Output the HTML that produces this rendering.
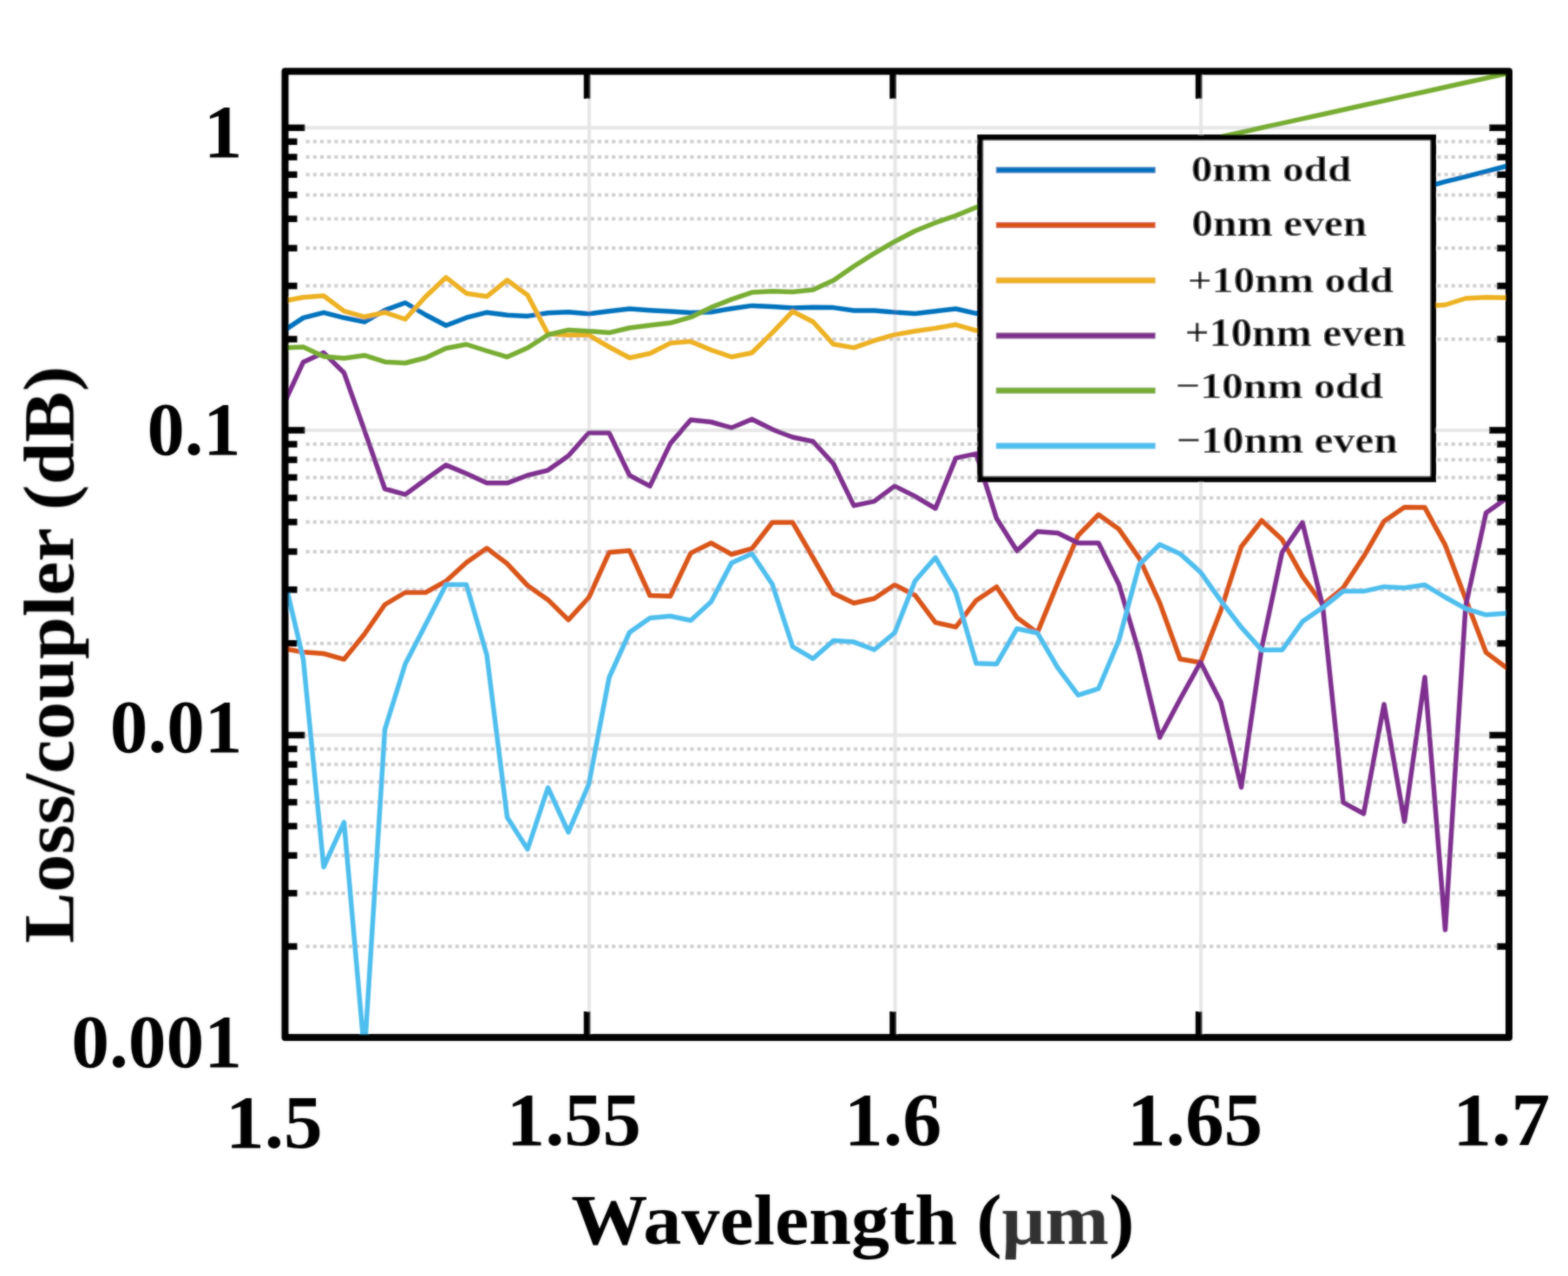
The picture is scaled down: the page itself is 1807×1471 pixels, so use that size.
<!DOCTYPE html>
<html><head><meta charset="utf-8"><title>Loss per coupler vs wavelength</title>
<style>html,body{margin:0;padding:0;background:#fff;}body{width:1807px;height:1471px;overflow:hidden;}svg{display:block;}.t{font-family:"Liberation Serif","Times New Roman",serif;font-weight:bold;fill:#000;}</style>
</head><body>
<svg width="1807" height="1471" viewBox="0 0 1807 1471">
<rect x="0" y="0" width="1807" height="1471" fill="#fff"/>
<defs><filter id="bl" x="0" y="0" width="1807" height="1471" filterUnits="userSpaceOnUse"><feGaussianBlur in="SourceGraphic" stdDeviation="1" result="b"/><feComposite in="SourceGraphic" in2="b" operator="arithmetic" k1="0" k2="0.4" k3="0.6" k4="0"/></filter></defs>
<g filter="url(#bl)">
<defs><clipPath id="pa"><rect x="328.5" y="82.3" width="1410.5" height="1113.7"/></clipPath></defs>
<g stroke="#cfcfcf" stroke-width="4" stroke-dasharray="4.2 4" fill="none"><line x1="352.5" y1="1091.1" x2="1731.0" y2="1091.1"/><line x1="352.5" y1="1029.7" x2="1731.0" y2="1029.7"/><line x1="352.5" y1="986.2" x2="1731.0" y2="986.2"/><line x1="352.5" y1="952.4" x2="1731.0" y2="952.4"/><line x1="352.5" y1="924.8" x2="1731.0" y2="924.8"/><line x1="352.5" y1="901.5" x2="1731.0" y2="901.5"/><line x1="352.5" y1="881.3" x2="1731.0" y2="881.3"/><line x1="352.5" y1="863.4" x2="1731.0" y2="863.4"/><line x1="352.5" y1="741.7" x2="1731.0" y2="741.7"/><line x1="352.5" y1="679.8" x2="1731.0" y2="679.8"/><line x1="352.5" y1="635.9" x2="1731.0" y2="635.9"/><line x1="352.5" y1="601.8" x2="1731.0" y2="601.8"/><line x1="352.5" y1="574.0" x2="1731.0" y2="574.0"/><line x1="352.5" y1="550.4" x2="1731.0" y2="550.4"/><line x1="352.5" y1="530.1" x2="1731.0" y2="530.1"/><line x1="352.5" y1="512.1" x2="1731.0" y2="512.1"/><line x1="352.5" y1="391.0" x2="1731.0" y2="391.0"/><line x1="352.5" y1="329.6" x2="1731.0" y2="329.6"/><line x1="352.5" y1="286.1" x2="1731.0" y2="286.1"/><line x1="352.5" y1="252.3" x2="1731.0" y2="252.3"/><line x1="352.5" y1="224.7" x2="1731.0" y2="224.7"/><line x1="352.5" y1="201.3" x2="1731.0" y2="201.3"/><line x1="352.5" y1="181.1" x2="1731.0" y2="181.1"/><line x1="352.5" y1="163.3" x2="1731.0" y2="163.3"/></g>
<g stroke="#e6e6e6" stroke-width="4" fill="none"><line x1="332.5" y1="147.3" x2="1735.0" y2="147.3"/><line x1="332.5" y1="496.0" x2="1735.0" y2="496.0"/><line x1="332.5" y1="847.5" x2="1735.0" y2="847.5"/><line x1="679.0" y1="86.3" x2="679.0" y2="1192.0"/><line x1="1031.5" y1="86.3" x2="1031.5" y2="1192.0"/><line x1="1384.0" y1="86.3" x2="1384.0" y2="1192.0"/></g>
<g clip-path="url(#pa)" fill="none" stroke-width="5.5" stroke-linejoin="round" stroke-linecap="butt">
<polyline stroke="#0072BD" points="326.0,382.0 349.5,366.4 373.0,360.4 396.5,366.3 420.0,371.0 443.5,357.6 467.0,349.0 490.5,363.0 514.0,375.3 537.5,366.2 561.0,360.2 584.5,363.2 608.0,364.4 631.5,360.8 655.0,359.8 678.5,361.8 702.0,358.7 725.5,356.1 749.0,357.7 772.5,359.0 796.0,360.4 819.5,359.7 843.0,355.7 866.5,352.4 890.0,353.4 913.5,355.0 937.0,354.2 960.5,354.6 984.0,358.0 1007.5,358.0 1031.0,360.1 1054.5,361.4 1078.0,358.7 1101.5,356.0 1125.0,361.4 1148.5,354.8 1172.0,348.2 1195.5,341.6 1219.0,335.0 1242.5,328.4 1266.0,321.7 1289.5,315.1 1313.0,308.5 1336.5,301.9 1360.0,295.3 1383.5,288.7 1407.0,282.1 1430.5,275.5 1454.0,268.9 1477.5,262.3 1501.0,255.7 1524.5,249.1 1548.0,242.4 1571.5,235.8 1595.0,229.2 1618.5,222.6 1642.0,216.0 1665.5,209.4 1689.0,203.6 1712.5,197.6 1736.0,191.5"/>
<polyline stroke="#D95319" points="326.0,747.7 349.5,751.8 373.0,753.5 396.5,760.1 420.0,731.0 443.5,697.0 467.0,683.0 490.5,683.0 514.0,670.0 537.5,648.5 561.0,632.0 584.5,649.8 608.0,675.0 631.5,691.4 655.0,714.6 678.5,689.0 702.0,636.8 725.5,634.7 749.0,686.5 772.5,687.2 796.0,637.6 819.5,626.0 843.0,639.0 866.5,632.5 890.0,602.3 913.5,602.3 937.0,643.0 960.5,684.0 984.0,695.2 1007.5,690.0 1031.0,674.2 1054.5,686.2 1078.0,717.6 1101.5,722.9 1125.0,692.2 1148.5,676.5 1172.0,712.0 1195.5,729.4 1219.0,672.0 1242.5,617.2 1266.0,593.3 1289.5,610.1 1313.0,643.7 1336.5,694.9 1360.0,759.8 1383.5,763.7 1407.0,703.5 1430.5,630.2 1454.0,600.0 1477.5,622.0 1501.0,664.4 1524.5,697.0 1548.0,677.5 1571.5,641.6 1595.0,600.9 1618.5,584.8 1642.0,585.1 1665.5,628.4 1689.0,690.2 1712.5,752.1 1736.0,769.8"/>
<polyline stroke="#EDB120" points="326.0,347.3 349.5,342.8 373.0,341.0 396.5,358.6 420.0,365.3 443.5,360.2 467.0,368.0 490.5,342.0 514.0,319.8 537.5,338.2 561.0,341.8 584.5,323.0 608.0,340.2 631.5,385.0 655.0,386.3 678.5,386.3 702.0,400.0 725.5,412.5 749.0,407.5 772.5,395.6 796.0,393.6 819.5,403.5 843.0,411.5 866.5,406.8 890.0,383.6 913.5,359.0 937.0,371.0 960.5,396.8 984.0,400.9 1007.5,392.7 1031.0,385.9 1054.5,381.8 1078.0,378.4 1101.5,374.3 1125.0,381.1 1148.5,379.8 1172.0,378.5 1195.5,377.2 1219.0,376.0 1242.5,374.7 1266.0,373.4 1289.5,372.1 1313.0,370.8 1336.5,369.5 1360.0,368.2 1383.5,366.9 1407.0,365.7 1430.5,364.4 1454.0,363.1 1477.5,361.8 1501.0,360.5 1524.5,359.2 1548.0,357.9 1571.5,356.6 1595.0,355.4 1618.5,354.1 1642.0,352.8 1665.5,351.5 1689.0,344.0 1712.5,342.7 1736.0,343.3"/>
<polyline stroke="#7E2F8E" points="326.0,468.0 349.5,417.4 373.0,406.6 396.5,429.8 420.0,496.2 443.5,563.5 467.0,570.1 490.5,552.7 514.0,536.1 537.5,546.0 561.0,556.8 584.5,556.8 608.0,548.0 631.5,542.1 655.0,525.5 678.5,499.0 702.0,499.0 725.5,548.0 749.0,560.4 772.5,511.4 796.0,484.0 819.5,486.5 843.0,493.2 866.5,483.2 890.0,495.0 913.5,504.0 937.0,509.0 960.5,534.7 984.0,582.9 1007.5,577.9 1031.0,560.4 1054.5,572.1 1078.0,586.2 1101.5,528.1 1125.0,523.1 1148.5,597.8 1172.0,635.0 1195.5,612.7 1219.0,614.5 1242.5,626.0 1266.0,626.0 1289.5,673.7 1313.0,753.0 1336.5,850.2 1360.0,806.0 1383.5,763.6 1407.0,809.6 1430.5,907.7 1454.0,747.0 1477.5,636.7 1501.0,602.4 1524.5,700.0 1548.0,925.2 1571.5,938.0 1595.0,812.0 1618.5,947.2 1642.0,780.8 1665.5,1072.0 1689.0,699.0 1712.5,591.3 1736.0,574.5"/>
<polyline stroke="#77AC30" points="326.0,401.0 349.5,400.0 373.0,411.0 396.5,413.0 420.0,409.7 443.5,417.2 467.0,418.5 490.5,412.5 514.0,401.5 537.5,397.0 561.0,404.5 584.5,411.6 608.0,401.0 631.5,386.0 655.0,380.4 678.5,381.7 702.0,383.6 725.5,378.0 749.0,375.0 772.5,372.3 796.0,365.7 819.5,354.4 843.0,345.1 866.5,337.1 890.0,335.8 913.5,336.5 937.0,334.0 960.5,323.3 984.0,307.0 1007.5,292.1 1031.0,278.5 1054.5,266.2 1078.0,256.7 1101.5,248.6 1125.0,239.0 1148.5,232.2 1172.0,225.5 1195.5,218.7 1219.0,211.9 1242.5,205.1 1266.0,198.4 1289.5,191.6 1313.0,184.8 1336.5,178.0 1360.0,171.3 1383.5,164.5 1407.0,157.7 1430.5,152.5 1454.0,147.3 1477.5,142.1 1501.0,136.9 1524.5,131.7 1548.0,126.5 1571.5,121.3 1595.0,116.1 1618.5,110.9 1642.0,105.7 1665.5,100.5 1689.0,95.3 1712.5,90.1 1736.0,84.9"/>
<polyline stroke="#4DBEEE" points="326.0,660.0 349.5,760.0 373.0,999.5 396.5,947.9 420.0,1215.0 443.5,841.0 467.0,765.5 490.5,720.0 514.0,674.0 537.5,674.0 561.0,755.0 584.5,942.2 608.0,979.0 631.5,908.0 655.0,959.4 678.5,904.3 702.0,781.0 725.5,729.0 749.0,712.4 772.5,710.2 796.0,715.3 819.5,693.7 843.0,649.1 866.5,638.3 890.0,673.5 913.5,745.5 937.0,759.3 960.5,738.6 984.0,740.1 1007.5,749.0 1031.0,729.6 1054.5,669.8 1078.0,642.8 1101.5,683.2 1125.0,764.7 1148.5,765.5 1172.0,724.7 1195.5,729.7 1219.0,769.9 1242.5,801.3 1266.0,793.8 1289.5,738.0 1313.0,650.7 1336.5,627.8 1360.0,638.4 1383.5,659.6 1407.0,692.6 1430.5,723.2 1454.0,749.3 1477.5,749.3 1501.0,716.6 1524.5,700.3 1548.0,681.6 1571.5,681.6 1595.0,676.4 1618.5,677.7 1642.0,674.3 1665.5,688.5 1689.0,701.7 1712.5,708.8 1736.0,707.0"/>
</g>
<g stroke="#000" stroke-width="7.5" fill="none"><line x1="328.5" y1="1196.0" x2="351.5" y2="1196.0"/><line x1="1739.0" y1="1196.0" x2="1716.0" y2="1196.0"/><line x1="328.5" y1="1091.1" x2="342.5" y2="1091.1"/><line x1="1739.0" y1="1091.1" x2="1725.0" y2="1091.1"/><line x1="328.5" y1="1029.7" x2="342.5" y2="1029.7"/><line x1="1739.0" y1="1029.7" x2="1725.0" y2="1029.7"/><line x1="328.5" y1="986.2" x2="342.5" y2="986.2"/><line x1="1739.0" y1="986.2" x2="1725.0" y2="986.2"/><line x1="328.5" y1="952.4" x2="342.5" y2="952.4"/><line x1="1739.0" y1="952.4" x2="1725.0" y2="952.4"/><line x1="328.5" y1="924.8" x2="342.5" y2="924.8"/><line x1="1739.0" y1="924.8" x2="1725.0" y2="924.8"/><line x1="328.5" y1="901.5" x2="342.5" y2="901.5"/><line x1="1739.0" y1="901.5" x2="1725.0" y2="901.5"/><line x1="328.5" y1="881.3" x2="342.5" y2="881.3"/><line x1="1739.0" y1="881.3" x2="1725.0" y2="881.3"/><line x1="328.5" y1="863.4" x2="342.5" y2="863.4"/><line x1="1739.0" y1="863.4" x2="1725.0" y2="863.4"/><line x1="328.5" y1="847.5" x2="351.5" y2="847.5"/><line x1="1739.0" y1="847.5" x2="1716.0" y2="847.5"/><line x1="328.5" y1="741.7" x2="342.5" y2="741.7"/><line x1="1739.0" y1="741.7" x2="1725.0" y2="741.7"/><line x1="328.5" y1="679.8" x2="342.5" y2="679.8"/><line x1="1739.0" y1="679.8" x2="1725.0" y2="679.8"/><line x1="328.5" y1="635.9" x2="342.5" y2="635.9"/><line x1="1739.0" y1="635.9" x2="1725.0" y2="635.9"/><line x1="328.5" y1="601.8" x2="342.5" y2="601.8"/><line x1="1739.0" y1="601.8" x2="1725.0" y2="601.8"/><line x1="328.5" y1="574.0" x2="342.5" y2="574.0"/><line x1="1739.0" y1="574.0" x2="1725.0" y2="574.0"/><line x1="328.5" y1="550.4" x2="342.5" y2="550.4"/><line x1="1739.0" y1="550.4" x2="1725.0" y2="550.4"/><line x1="328.5" y1="530.1" x2="342.5" y2="530.1"/><line x1="1739.0" y1="530.1" x2="1725.0" y2="530.1"/><line x1="328.5" y1="512.1" x2="342.5" y2="512.1"/><line x1="1739.0" y1="512.1" x2="1725.0" y2="512.1"/><line x1="328.5" y1="496.0" x2="351.5" y2="496.0"/><line x1="1739.0" y1="496.0" x2="1716.0" y2="496.0"/><line x1="328.5" y1="391.0" x2="342.5" y2="391.0"/><line x1="1739.0" y1="391.0" x2="1725.0" y2="391.0"/><line x1="328.5" y1="329.6" x2="342.5" y2="329.6"/><line x1="1739.0" y1="329.6" x2="1725.0" y2="329.6"/><line x1="328.5" y1="286.1" x2="342.5" y2="286.1"/><line x1="1739.0" y1="286.1" x2="1725.0" y2="286.1"/><line x1="328.5" y1="252.3" x2="342.5" y2="252.3"/><line x1="1739.0" y1="252.3" x2="1725.0" y2="252.3"/><line x1="328.5" y1="224.7" x2="342.5" y2="224.7"/><line x1="1739.0" y1="224.7" x2="1725.0" y2="224.7"/><line x1="328.5" y1="201.3" x2="342.5" y2="201.3"/><line x1="1739.0" y1="201.3" x2="1725.0" y2="201.3"/><line x1="328.5" y1="181.1" x2="342.5" y2="181.1"/><line x1="1739.0" y1="181.1" x2="1725.0" y2="181.1"/><line x1="328.5" y1="163.3" x2="342.5" y2="163.3"/><line x1="1739.0" y1="163.3" x2="1725.0" y2="163.3"/><line x1="328.5" y1="147.3" x2="351.5" y2="147.3"/><line x1="1739.0" y1="147.3" x2="1716.0" y2="147.3"/><line x1="676.5" y1="1196.0" x2="676.5" y2="1166.0"/><line x1="676.5" y1="82.3" x2="676.5" y2="113.8"/><line x1="1029.0" y1="1196.0" x2="1029.0" y2="1166.0"/><line x1="1029.0" y1="82.3" x2="1029.0" y2="113.8"/><line x1="1381.5" y1="1196.0" x2="1381.5" y2="1166.0"/><line x1="1381.5" y1="82.3" x2="1381.5" y2="113.8"/></g>
<rect x="328.5" y="82.3" width="1410.5" height="1113.7" fill="none" stroke="#000" stroke-width="8.0" stroke-linejoin="round"/>
<rect x="1129.7" y="158.6" width="521.8" height="393.7" fill="#fff" stroke="#000" stroke-width="7"/>
<line x1="1147.8" y1="196.1" x2="1331.6" y2="196.1" stroke="#0072BD" stroke-width="7"/>
<line x1="1147.8" y1="259.6" x2="1331.6" y2="259.6" stroke="#D95319" stroke-width="7"/>
<line x1="1147.8" y1="323.2" x2="1331.6" y2="323.2" stroke="#EDB120" stroke-width="7"/>
<line x1="1147.8" y1="387.0" x2="1331.6" y2="387.0" stroke="#7E2F8E" stroke-width="7"/>
<line x1="1147.8" y1="450.2" x2="1331.6" y2="450.2" stroke="#77AC30" stroke-width="7"/>
<line x1="1147.8" y1="514.1" x2="1331.6" y2="514.1" stroke="#4DBEEE" stroke-width="7"/>
<g transform="matrix(1.06941,0,0,0.93438,-97.68,13.72)"><text class="t" x="1375.0" y="209.0" font-size="46">0nm odd</text></g>
<g transform="matrix(1.07514,0,0,0.96452,-105.26,9.75)"><text class="t" x="1375.2" y="272.3" font-size="46">0nm even</text></g>
<g transform="matrix(1.06895,0,0,0.93437,-97.24,21.88)"><text class="t" x="1371.5" y="337.7" font-size="46">+10nm odd</text></g>
<g transform="matrix(1.07521,0,0,0.99032,-109.14,3.86)"><text class="t" x="1371.5" y="399.0" font-size="46">+10nm even</text></g>
<g transform="matrix(1.07752,0,0,0.93438,-108.21,29.79)"><text class="t" x="1357.9" y="459.6" font-size="46">−10nm odd</text></g>
<g transform="matrix(1.07597,0,0,0.96452,-105.29,18.26)"><text class="t" x="1357.9" y="522.7" font-size="46">−10nm even</text></g>
<g transform="matrix(1.03750,0,0,1.01404,-10.11,-2.13)"><text class="t" x="279" y="180.4" font-size="86" text-anchor="end">1</text></g>
<g transform="matrix(1.00500,0,0,0.99655,-2.87,1.31)"><text class="t" x="279" y="525.0" font-size="86" text-anchor="end">0.1</text></g>
<g transform="matrix(1.01329,0,0,1.00862,-3.35,-8.29)"><text class="t" x="279" y="867.5" font-size="86" text-anchor="end">0.01</text></g>
<g transform="matrix(1.01720,0,0,1.00517,-4.73,-7.07)"><text class="t" x="279" y="1230.5" font-size="86" text-anchor="end">0.001</text></g>
<g transform="matrix(1.01500,0,0,0.98644,-6.85,17.65)"><text class="t" x="318.0" y="1323" font-size="88" text-anchor="middle">1.5</text></g>
<g transform="matrix(1.00694,0,0,0.98814,-6.22,12.91)"><text class="t" x="663.0" y="1323" font-size="88" text-anchor="middle">1.55</text></g>
<g transform="matrix(1.02100,0,0,0.98814,-24.16,12.91)"><text class="t" x="1031.5" y="1323" font-size="88" text-anchor="middle">1.6</text></g>
<g transform="matrix(1.01399,0,0,0.98983,-20.91,10.36)"><text class="t" x="1378.7" y="1323" font-size="88" text-anchor="middle">1.65</text></g>
<g transform="matrix(1.01800,0,0,0.98305,-33.43,19.34)"><text class="t" x="1732.5" y="1323" font-size="88" text-anchor="middle">1.7</text></g>
<g transform="matrix(1.02401,0,0,0.97089,-23.61,41.70)"><text class="t" x="982.7" y="1434" font-size="86" text-anchor="middle">Wavelength (<tspan fill="#333">μm</tspan>)</text></g>
<g transform="matrix(0.96962,0,0,1.02310,2.43,-18.33)"><text class="t" transform="translate(84,755.6) rotate(-90)" x="0" y="0" font-size="86" text-anchor="middle">Loss/coupler (dB)</text></g>
</g>
</svg></body></html>
